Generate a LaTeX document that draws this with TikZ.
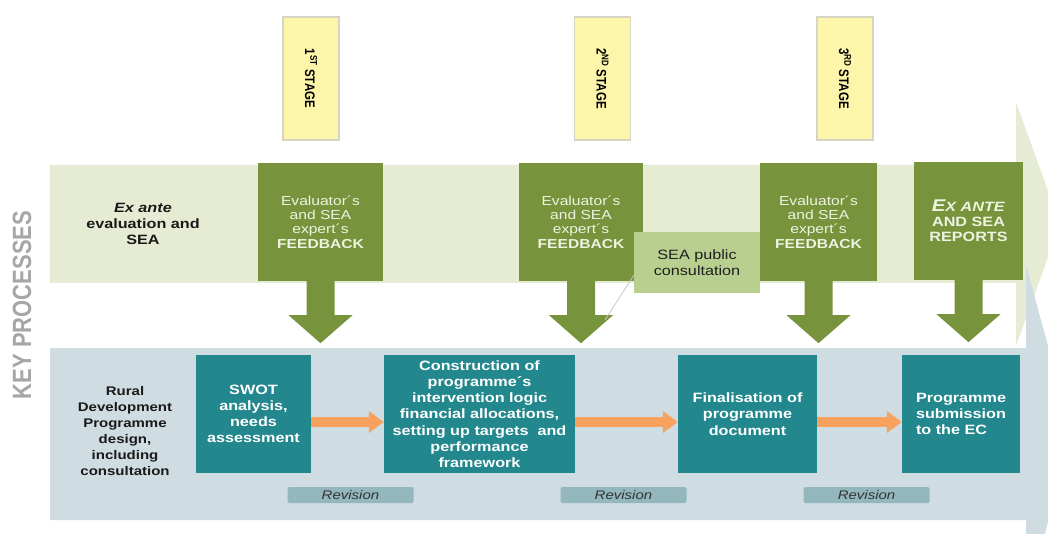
\documentclass[tikz,border=0pt]{standalone}
\usepackage{fontspec}
\usepackage{graphicx}
\setmainfont{Liberation Sans}[FakeStretch=1.2]
\newfontfamily\tallsans{Liberation Sans}
\usetikzlibrary{positioning,calc,arrows.meta}

\definecolor{bandgreen}{HTML}{E5ECD3}
\definecolor{bandblue}{HTML}{CFDDE2}
\definecolor{fbgreen}{HTML}{77933C}
\definecolor{fbtext}{HTML}{EEF3E2}
\definecolor{seagreen}{HTML}{B9CF90}
\definecolor{rdpteal}{HTML}{22888D}
\definecolor{flow}{HTML}{F6A15E}
\definecolor{revcol}{HTML}{93B7BD}
\definecolor{stageyellow}{HTML}{FDF6AA}
\definecolor{stageedge}{HTML}{D6D4C4}
\definecolor{keygray}{HTML}{A6A6A6}

\tikzset{
  stagebox/.style={fill=stageyellow, draw=stageedge, line width=1.2pt, rotate=-90,
    minimum width=123pt, minimum height=56pt, inner sep=0pt,
    font=\tallsans\bfseries\fontsize{11.5}{12}\selectfont},
  fbbox/.style={fill=fbgreen, text=fbtext, align=center, inner sep=0pt,
    minimum height=118pt, font=\fontsize{13}{14.2}\selectfont},
  rdpbox/.style={fill=rdpteal, text=white, align=center, inner sep=0pt,
    minimum height=118pt, font=\bfseries\fontsize{13.5}{16.2}\selectfont},
  revbox/.style={fill=revcol, text=black!80, rounded corners=1.5pt, inner sep=0pt,
    minimum width=126pt, minimum height=16pt, font=\itshape\fontsize{12.5}{14}\selectfont},
  rowlabel/.style={align=center, text=black!90, font=\bfseries\fontsize{13}{16}\selectfont},
  flowarrow/.style={draw=flow, line width=10pt, -{Triangle[length=15pt,width=21pt]}},
  callout/.style={draw=black!22, line width=0.8pt}
}

\begin{document}
\begin{tikzpicture}[x=1pt,y=-1pt]
\useasboundingbox (0,0) rectangle (1048,534);

% the two process bands
\fill[bandgreen] (50,165) -- (1016,165) -- (1016,102) -- (1060,224) -- (1016,346) -- (1016,283) -- (50,283) -- cycle;
\fill[bandblue] (50,348) -- (1026,348) -- (1026,265) -- (1072,434) -- (1026,603) -- (1026,520) -- (50,520) -- cycle;

\node[rotate=90, text=keygray, font=\tallsans\bfseries\fontsize{22}{24}\selectfont] (key) at (22,305) {\scalebox{1}[1.2]{KEY PROCESSES}};

% stages
\node[stagebox] (stA) at (311,78.5) {\scalebox{1}[1.2]{1\textsuperscript{ST} STAGE}};
\node[stagebox] (stB) at (602.5,78.5) {\scalebox{1}[1.2]{2\textsuperscript{ND} STAGE}};
\node[stagebox] (stC) at (845,78.5) {\scalebox{1}[1.2]{3\textsuperscript{RD} STAGE}};

% ex ante row
\node[rowlabel, font=\bfseries\fontsize{13.5}{16}\selectfont] (exante) at (143,224) {\textit{Ex ante}\\evaluation and\\SEA};
\node[fbbox, minimum width=125pt] (fbA) at (320.5,222) {Evaluator´s\\and SEA\\expert´s\\\textbf{FEEDBACK}};
\node[fbbox, minimum width=124pt] (fbB) at (581,222) {Evaluator´s\\and SEA\\expert´s\\\textbf{FEEDBACK}};
\node[fbbox, minimum width=117pt] (fbC) at (818.5,222) {Evaluator´s\\and SEA\\expert´s\\\textbf{FEEDBACK}};
\node[fbbox, minimum width=109pt, font=\bfseries\fontsize{13.5}{15}\selectfont] (rep) at (968.5,221)
  {\textit{{\fontsize{17}{15}\selectfont E}X ANTE}\\AND SEA\\REPORTS};

\foreach \n in {fbA,fbB,fbC,rep}{
  \fill[fbgreen] ([xshift=-14pt]\n.south) -- ++(0,34) -- ++(-18,0) -- ($(\n.south)+(0,62)$)
    -- ++(32,-28) -- ++(-18,0) -- ([xshift=14pt]\n.south) -- cycle;
}

\node[fill=seagreen, text=black!88, align=center, inner sep=0pt, minimum width=126pt, minimum height=61pt,
  font=\fontsize{13.5}{16}\selectfont] (seapub) at (697,262.5) {SEA public\\consultation};
\coordinate (seatip) at (605,320);
\draw[callout] ($(seapub.south west)+(0,-18)$) -- (seatip);

% programme design row
\node[rowlabel, font=\bfseries\fontsize{12.5}{16}\selectfont] (rdp) at (125,431) {Rural\\Development\\Programme\\design,\\including\\consultation};
\node[rdpbox, minimum width=115pt] (swot) at (253.5,414) {SWOT\\analysis,\\needs\\assessment};
\node[rdpbox, minimum width=191pt] (constr) at (479.5,414) {Construction of\\programme´s\\intervention logic\\financial allocations,\\setting up targets\ \ and\\performance\\framework};
\node[rdpbox, minimum width=139pt] (fin) at (747.5,414) {Finalisation of\\programme\\document};
\node[rdpbox, align=left, text width=90pt, inner xsep=14pt] (sub) at (961,414) {Programme\\submission\\to the EC};

\foreach \a/\b in {swot/constr,constr/fin,fin/sub}
  \draw[flowarrow] ($(\a.east)+(0,8)$) -- ($(\b.west)+(0,8)$);

\node[revbox] (revA) at (350.5,495) {Revision};
\node[revbox] (revB) at (623.5,495) {Revision};
\node[revbox] (revC) at (866.5,495) {Revision};
\end{tikzpicture}
\end{document}
